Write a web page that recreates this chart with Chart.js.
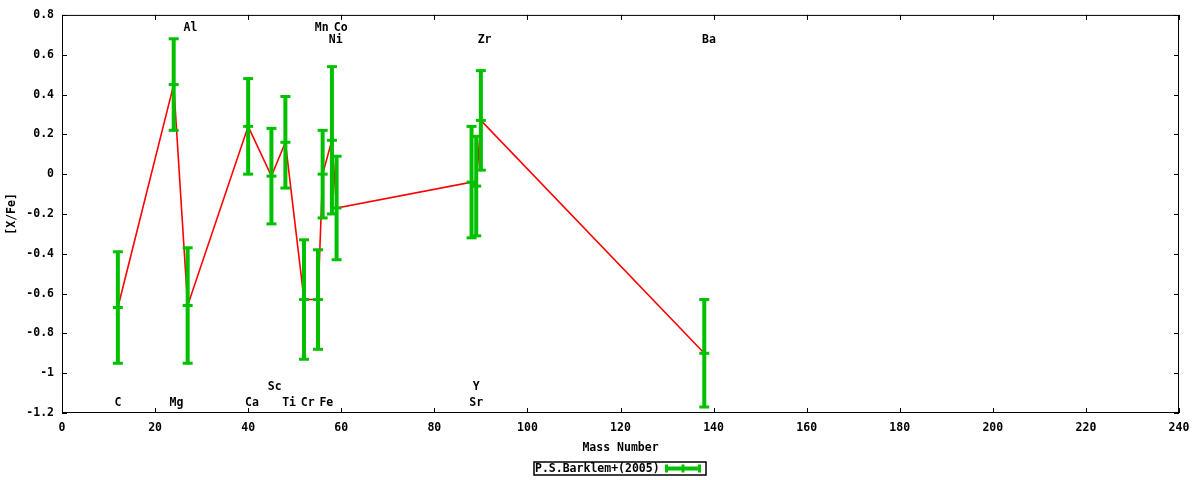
<!DOCTYPE html>
<html lang="en">
<head>
    <meta charset="UTF-8">
    <title>[X/Fe] vs Mass Number</title>
    <script src="https://cdn.jsdelivr.net/npm/chart.js"></script>
    <style>
        html, body {
            margin: 0;
            padding: 0;
            background: #fff;
        }
        .wrap {
            width: 1200px;
            height: 480px;
        }
    </style>
</head>
<body>
    <div class="wrap">
        <canvas id="abund" width="1200" height="480"></canvas>
    </div>

    <script>
        // data
        var elements   = ['C', 'Mg', 'Al', 'Ca', 'Sc', 'Ti', 'Cr', 'Mn', 'Fe', 'Ni', 'Co', 'Sr', 'Y', 'Zr', 'Ba'];
        var massNumber = [12, 24, 27, 40, 45, 48, 52, 55, 56, 58, 59, 88, 89, 90, 138];
        var xFe        = [-0.67, 0.45, -0.66, 0.24, -0.01, 0.16, -0.63, -0.63, 0.00, 0.17, -0.17, -0.04, -0.06, 0.27, -0.90];
        var xFeErr     = [0.28, 0.23, 0.29, 0.24, 0.24, 0.23, 0.30, 0.25, 0.22, 0.37, 0.26, 0.28, 0.25, 0.25, 0.27];

        // element labels written in the plot (text, mass position, [X/Fe] level)
        var labelText  = ['C', 'Mg', 'Al', 'Ca', 'Sc', 'Ti', 'Cr', 'Fe', 'Mn', 'Co', 'Ni', 'Sr', 'Y', 'Zr', 'Ba'];
        var labelMass  = [12.0, 24.6, 27.6, 40.8, 45.7, 48.8, 52.8, 56.8, 55.8, 59.9, 58.8, 89.0, 89.0, 90.8, 139.0];
        var labelLevel = [-1.15, -1.15, 0.735, -1.15, -1.07, -1.15, -1.15, -1.15, 0.735, 0.735, 0.675, -1.15, -1.07, 0.675, 0.675];

        var legendLabel = 'P.S.Barklem+(2005)';

        var FONT = 'bold 11.5px "DejaVu Sans Mono", "Liberation Mono", monospace';
        var GREEN = '#00c000';

        var points = massNumber.map(function (m, i) {
            return { x: m, y: xFe[i] };
        });

        // error bars: vertical line with caps at both ends and a tick at the value
        var errorBars = {
            id: 'errorBars',
            afterDatasetsDraw: function (chart) {
                var ctx = chart.ctx;
                var xs = chart.scales.x, ys = chart.scales.y;
                ctx.save();
                ctx.strokeStyle = GREEN;
                for (var i = 0; i < massNumber.length; i++) {
                    var px = xs.getPixelForValue(massNumber[i]);
                    var pTop = ys.getPixelForValue(xFe[i] + xFeErr[i]);
                    var pBot = ys.getPixelForValue(xFe[i] - xFeErr[i]);
                    var pMid = ys.getPixelForValue(xFe[i]);
                    ctx.lineWidth = 4;
                    ctx.beginPath();
                    ctx.moveTo(px, pTop);
                    ctx.lineTo(px, pBot);
                    ctx.stroke();
                    ctx.lineWidth = 3;
                    [pTop, pMid, pBot].forEach(function (py) {
                        ctx.beginPath();
                        ctx.moveTo(px - 5, py);
                        ctx.lineTo(px + 5, py);
                        ctx.stroke();
                    });
                }
                ctx.restore();
            }
        };

        // frame, inward ticks on all four sides, element labels and legend
        var decorations = {
            id: 'decorations',
            afterDraw: function (chart) {
                var ctx = chart.ctx;
                var a = chart.chartArea;
                var xs = chart.scales.x, ys = chart.scales.y;
                ctx.save();
                ctx.strokeStyle = '#000';
                ctx.lineWidth = 1;
                ctx.strokeRect(a.left + 0.5, a.top + 0.5, a.right - a.left - 1, a.bottom - a.top - 1);

                var tl = 5;
                ctx.beginPath();
                xs.ticks.forEach(function (t) {
                    var px = Math.round(xs.getPixelForValue(t.value)) + 0.5;
                    ctx.moveTo(px, a.bottom);
                    ctx.lineTo(px, a.bottom - tl);
                    ctx.moveTo(px, a.top);
                    ctx.lineTo(px, a.top + tl);
                });
                ys.ticks.forEach(function (t) {
                    var py = Math.round(ys.getPixelForValue(t.value)) + 0.5;
                    ctx.moveTo(a.left, py);
                    ctx.lineTo(a.left + tl, py);
                    ctx.moveTo(a.right, py);
                    ctx.lineTo(a.right - tl, py);
                });
                ctx.stroke();

                ctx.fillStyle = '#000';
                ctx.font = FONT;
                ctx.textAlign = 'center';
                ctx.textBaseline = 'middle';
                for (var i = 0; i < labelText.length; i++) {
                    ctx.fillText(labelText[i], xs.getPixelForValue(labelMass[i]), ys.getPixelForValue(labelLevel[i]));
                }

                // legend box
                var bx = 534, by = 462, bw = 172, bh = 13;
                ctx.lineWidth = 1.5;
                ctx.strokeRect(bx, by, bw, bh);
                ctx.textAlign = 'left';
                ctx.fillText(legendLabel, bx + 1, by + bh / 2 + 0.5);
                ctx.strokeStyle = GREEN;
                ctx.lineWidth = 4;
                var cy = by + bh / 2;
                ctx.beginPath();
                ctx.moveTo(665, cy);
                ctx.lineTo(701, cy);
                ctx.stroke();
                ctx.lineWidth = 3;
                [666.5, 683, 699.5].forEach(function (sx) {
                    ctx.beginPath();
                    ctx.moveTo(sx, cy - 4);
                    ctx.lineTo(sx, cy + 4);
                    ctx.stroke();
                });
                ctx.restore();
            }
        };

        Chart.defaults.font.family = '"DejaVu Sans Mono", "Liberation Mono", monospace';
        Chart.defaults.font.size = 11.5;
        Chart.defaults.font.weight = 'bold';
        Chart.defaults.color = '#000';

        var ctx = document.getElementById('abund').getContext('2d');
        var myChart = new Chart(ctx, {
            type: 'line',
            data: {
                datasets: [{
                    label: legendLabel,
                    data: points,
                    borderColor: '#ff0000',
                    borderWidth: 1.6,
                    pointRadius: 0,
                    tension: 0,
                    fill: false
                }]
            },
            plugins: [errorBars, decorations],
            options: {
                responsive: false,
                animation: false,
                devicePixelRatio: 1,
                layout: {
                    padding: { top: 13, right: 21, bottom: 25, left: 0 }
                },
                plugins: {
                    legend: { display: false },
                    tooltip: { enabled: false }
                },
                scales: {
                    x: {
                        type: 'linear',
                        min: 0,
                        max: 240,
                        ticks: { stepSize: 20, padding: 8, maxRotation: 0 },
                        grid: { display: false, drawTicks: false },
                        border: { display: false },
                        title: { display: true, text: 'Mass Number', padding: { top: 0, bottom: 0 } },
                        afterFit: function (s) { s.height = 42; }
                    },
                    y: {
                        type: 'linear',
                        min: -1.2,
                        max: 0.8,
                        ticks: {
                            stepSize: 0.2,
                            padding: 8,
                            // gnuplot style: "-1" rather than "-1.0"
                            callback: function (v) { return String(Number(v.toFixed(1))); }
                        },
                        grid: { display: false, drawTicks: false },
                        border: { display: false },
                        title: { display: true, text: '[X/Fe]', padding: { top: 5, bottom: 0 } },
                        afterFit: function (s) { s.width = 62; }
                    }
                }
            }
        });
    </script>
</body>
</html>
